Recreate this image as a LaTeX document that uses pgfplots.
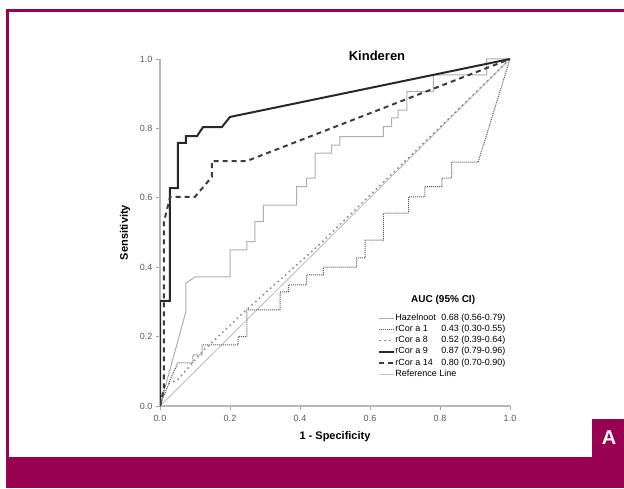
\documentclass[border=0pt]{standalone}
\usepackage{fontspec}
\setmainfont{Liberation Sans}
\usepackage{pgfplots}
\pgfplotsset{compat=1.18}

\definecolor{frame}{RGB}{153,0,82}
\definecolor{hazel}{RGB}{175,175,175}
\definecolor{cor1}{RGB}{85,85,85}
\definecolor{cor8}{RGB}{135,135,135}
\definecolor{cor9}{RGB}{40,40,40}
\definecolor{cor14}{RGB}{60,60,60}
\definecolor{refl}{RGB}{195,195,195}

\begin{document}
\begin{tikzpicture}[x=1pt,y=1pt]
\useasboundingbox (0,0) rectangle (624,488);
\fill[white] (0,0) rectangle (624,488);
% magenta frame of the figure
\fill[frame] (6,476) rectangle (624,479);
\fill[frame] (6,31) rectangle (9,479);
\fill[frame] (6,0) rectangle (624,31);
\fill[frame] (592,31) rectangle (624,69);
\node[white,font=\fontsize{20}{20}\selectfont\bfseries] at (609,50) {A};

\begin{axis}[
    at={(160pt,82pt)}, anchor=south west,
    scale only axis,
    width=350pt, height=347pt,
    xmin=0, xmax=1, ymin=0, ymax=1,
    clip mode=individual,
    axis x line*=bottom, axis y line*=left,
    axis line style={draw=gray!55, line width=1.5pt, -},
    xtick={0,0.2,0.4,0.6,0.8,1},
    ytick={0,0.2,0.4,0.6,0.8,1},
    tick align=outside,
    major tick length=4pt,
    tick style={draw=gray!70, line width=0.8pt},
    /pgf/number format/assume math mode=true,
    /pgf/number format/fixed,
    /pgf/number format/fixed zerofill,
    /pgf/number format/precision=1,
    ticklabel style={font=\fontsize{9}{10}\selectfont, text=black!65},
    xticklabel style={yshift=-1.5pt},
    xlabel={1 - Specificity},
    ylabel={Sensitivity},
    label style={font=\fontsize{11}{12}\selectfont\bfseries},
    xlabel style={at={(axis description cs:0.5,-0.089)}, anchor=center},
    ylabel style={at={(axis description cs:-0.1,0.5)}, anchor=center},
    legend cell align=left,
    legend style={at={(axis cs:0.622,0.268)}, anchor=north west,
        draw=none, fill=none, inner sep=0pt, row sep=1.6pt,
        font=\fontsize{9}{10}\selectfont,
        nodes={inner sep=0.5pt, text height=6.6pt, text depth=2pt}},
    legend image code/.code={\draw[#1] (0pt,0pt) -- (15pt,0pt);},
]
% reference line
\addplot[refl, line width=1pt, forget plot] coordinates {(0,0) (1,1)};

% Hazelnoot
\addplot[hazel, line width=1pt] coordinates {
(0,0) (0.074,0.272) (0.074,0.354) (0.1,0.372) (0.2,0.372) (0.2,0.45)
(0.248,0.45) (0.248,0.474) (0.271,0.474) (0.271,0.531) (0.295,0.531)
(0.295,0.579) (0.39,0.579) (0.39,0.632) (0.419,0.632) (0.419,0.657)
(0.443,0.657) (0.443,0.729) (0.49,0.729) (0.49,0.752) (0.514,0.752)
(0.514,0.776) (0.638,0.776) (0.638,0.805) (0.662,0.805) (0.662,0.83)
(0.68,0.83) (0.68,0.853) (0.705,0.853) (0.705,0.906) (0.781,0.906)
(0.781,0.954) (0.933,0.954) (0.933,1) (1,1)
};
% rCor a 1
\addplot[cor1, line width=1pt, dash pattern=on 1pt off 1pt] coordinates {
(0,0) (0.029,0.075) (0.051,0.124) (0.094,0.124) (0.094,0.147) (0.12,0.147)
(0.12,0.176) (0.223,0.176) (0.223,0.2) (0.248,0.2) (0.248,0.277)
(0.343,0.277) (0.343,0.329) (0.367,0.329) (0.367,0.349) (0.419,0.349)
(0.419,0.378) (0.467,0.378) (0.467,0.4) (0.562,0.4) (0.562,0.427)
(0.586,0.427) (0.586,0.478) (0.638,0.478) (0.638,0.556) (0.71,0.556)
(0.71,0.603) (0.757,0.603) (0.757,0.632) (0.805,0.632) (0.805,0.657)
(0.833,0.657) (0.833,0.703) (0.909,0.703) (1,1)
};
% rCor a 8
\addplot[cor8, line width=1.4pt, dash pattern=on 1.6pt off 3.4pt] coordinates {
(0,0) (0.015,0.06) (0.05,0.075) (0.124,0.16) (0.25,0.28) (0.45,0.46) (1,1)
};
% rCor a 9
\addplot[cor9, line width=2pt] coordinates {
(0,0) (0,0.303) (0.028,0.303) (0.028,0.628) (0.051,0.628) (0.051,0.758)
(0.074,0.758) (0.074,0.778) (0.106,0.778) (0.123,0.804) (0.177,0.804)
(0.2,0.833) (1,1)
};
% rCor a 14
\addplot[cor14, line width=2pt, dash pattern=on 5pt off 4pt] coordinates {
(0,0) (0.011,0.05) (0.011,0.53) (0.029,0.603) (0.1,0.603) (0.148,0.66)
(0.148,0.706) (0.248,0.706) (1,1)
};
\addlegendimage{refl, line width=1pt}

\legend{
  \makebox[46pt][l]{Hazelnoot}0.68 (0.56-0.79),
  \makebox[46pt][l]{rCor a 1}0.43 (0.30-0.55),
  \makebox[46pt][l]{rCor a 8}0.52 (0.39-0.64),
  \makebox[46pt][l]{rCor a 9}0.87 (0.79-0.96),
  \makebox[46pt][l]{rCor a 14}0.80 (0.70-0.90),
  Reference Line}

\node[font=\fontsize{10}{11}\selectfont\bfseries] at (axis cs:0.809,0.305) {AUC (95\% CI)};
\node[font=\fontsize{13}{14}\selectfont\bfseries] at (axis description cs:0.62,1.009) {Kinderen};
\end{axis}
\end{tikzpicture}
\end{document}
